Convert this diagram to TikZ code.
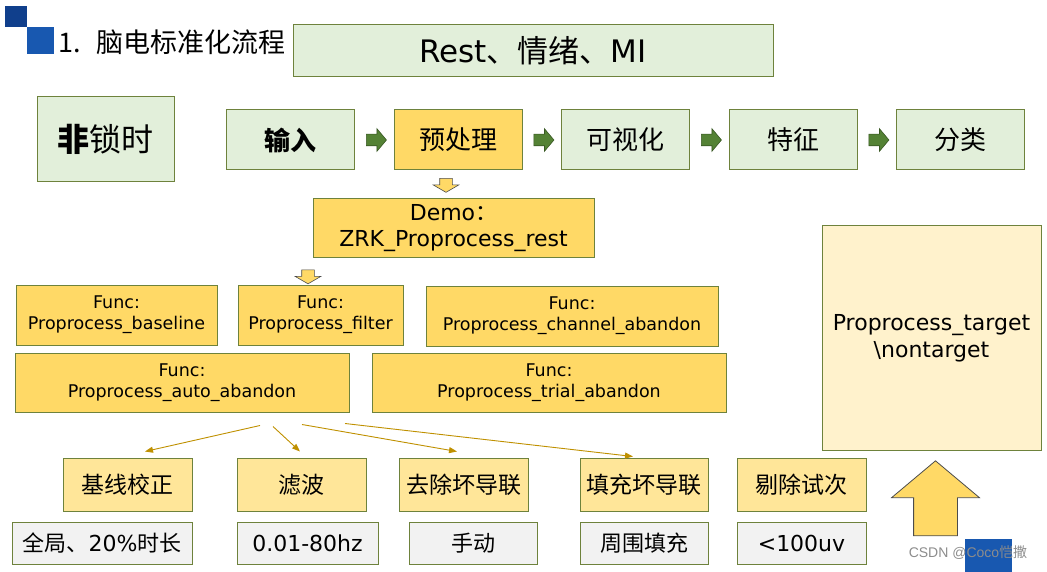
\documentclass[tikz,border=0pt]{standalone}
\usepackage{fontspec}
\setmainfont{DejaVu Sans}
\newfontfamily\cjk{Noto Sans CJK SC}
\newfontfamily\wmfont{Liberation Sans}
\usetikzlibrary{shapes.arrows,arrows.meta,calc}
\definecolor{sqdark}{RGB}{16,63,140}
\definecolor{sqblue}{RGB}{24,88,176}
\definecolor{lgreen}{RGB}{226,239,218}
\definecolor{boxline}{RGB}{110,130,60}
\definecolor{gold}{RGB}{255,217,102}
\definecolor{lgold}{RGB}{255,230,153}
\definecolor{cream}{RGB}{255,242,204}
\definecolor{lgray}{RGB}{242,242,242}
\definecolor{darrow}{RGB}{84,130,53}
\definecolor{darrowline}{RGB}{56,87,35}
\definecolor{linegold}{RGB}{191,144,0}
\begin{document}
\begin{tikzpicture}[x=1pt,y=1pt,yscale=-1,xscale=1,
  box/.style={draw=boxline, line width=1pt, inner sep=0pt, align=center},
  greenbox/.style={box, fill=lgreen, minimum width=128pt, minimum height=60pt, font=\cjk\fontsize{26}{30}\selectfont},
  funcbox/.style={box, fill=gold, minimum height=60pt, font=\fontsize{17.5}{21}\selectfont},
  stepbox/.style={box, fill=lgold, minimum width=129pt, minimum height=53pt, font=\cjk\fontsize{23}{26}\selectfont},
  valbox/.style={box, fill=lgray, minimum height=42pt, font=\fontsize{22}{26}\selectfont},
  garrow/.style={single arrow, draw=darrowline, fill=darrow, line width=0.6pt, minimum height=20pt,
    single arrow head extend=5.5pt, inner xsep=0pt, inner ysep=5.5pt, single arrow tip angle=100},
  yarrow/.style={single arrow, draw=black!70, fill=gold, line width=0.6pt, rotate=-90, minimum height=14pt,
    single arrow head extend=6.5pt, inner xsep=0pt, inner ysep=6pt, single arrow tip angle=120},
  thinarrow/.style={draw=linegold, line width=0.9pt, -{Triangle[length=8pt,width=6pt]}}
]
\useasboundingbox (0,0) rectangle (1047,572);
% title
\fill[sqdark] (5,6) rectangle (27,27);
\fill[sqblue] (27,27) rectangle (54,54);
\node[anchor=west, inner sep=0pt, font=\cjk\fontsize{27}{30}\selectfont] (title) at (58,42) {1.\hspace{0.6em}脑电标准化流程};
\node[greenbox, minimum width=480pt, minimum height=52pt, font=\fontsize{31}{34}\selectfont] (rest) at (533,51) {Rest{\cjk 、情绪、}MI};
% main flow
\node[greenbox, minimum width=137pt, minimum height=85pt, font=\cjk\fontsize{32}{36}\selectfont] (nolock) at (105.5,139.5) {{\bfseries 非}锁时};
\node[greenbox] (input) at (290,140) {\bfseries 输入};
\node[greenbox, fill=gold] (pre) at (458,140) {预处理};
\node[greenbox] (vis) at (625,140) {可视化};
\node[greenbox] (feat) at (793,140) {特征};
\node[greenbox] (cls) at (960,140) {分类};
\node[garrow] (g1) at ($(input.east)!0.5!(pre.west)$) {};
\node[garrow] (g2) at ($(pre.east)!0.5!(vis.west)$) {};
\node[garrow] (g3) at ($(vis.east)!0.5!(feat.west)$) {};
\node[garrow] (g4) at ($(feat.east)!0.5!(cls.west)$) {};
% demo and functions
\node[yarrow] (d1) at ($(pre.south)+(-12,13)$) {};
\node[funcbox, minimum width=281pt, minimum height=59pt, font=\fontsize{22}{26}\selectfont] (demo) at (453.5,228.5) {Demo{\cjk ：}\\ZRK\_Proprocess\_rest};
\node[yarrow] (d2) at (308,275) {};
\node[funcbox, minimum width=201pt] (fbase) at (116.5,315) {Func:\\Proprocess\_baseline};
\node[funcbox, minimum width=165pt] (ffilt) at (320.5,315) {Func:\\Proprocess\_filter};
\node[funcbox, minimum width=292pt] (fchan) at (572,316) {Func:\\Proprocess\_channel\_abandon};
\node[funcbox, minimum width=334pt, minimum height=59pt] (auto) at (182,382.5) {Func:\\Proprocess\_auto\_abandon};
\node[funcbox, minimum width=354pt, minimum height=59pt] (ftrial) at (549,382.5) {Func:\\Proprocess\_trial\_abandon};
\node[box, fill=cream, minimum width=219pt, minimum height=224pt, font=\fontsize{22}{27}\selectfont] (target) at (931.5,338) {Proprocess\_target\\\textbackslash nontarget};
\node[single arrow, draw=black!70, fill=gold, line width=0.8pt, rotate=90, minimum height=75pt,
  single arrow head extend=22pt, inner xsep=0pt, inner ysep=21.5pt, single arrow tip angle=100] (up) at (935.5,507.5) {};
% steps
\node[stepbox] (base) at (127.5,484.5) {基线校正};
\node[stepbox] (filt) at (301.5,484.5) {滤波};
\node[stepbox] (rem) at (463.5,484.5) {去除坏导联};
\node[stepbox, minimum width=128pt] (fill) at (644,484.5) {填充坏导联};
\node[stepbox] (drop) at (801.5,484.5) {剔除试次};
\node[valbox, minimum width=180pt] (glob) at (102,543) {{\cjk 全局、}20\%{\cjk 时长}};
\node[valbox, minimum width=141pt] (freq) at (307.5,543) {0.01-80hz};
\node[valbox, minimum width=128pt, font=\cjk\fontsize{22}{26}\selectfont] (manual) at (473,543) {手动};
\node[valbox, minimum width=128pt, font=\cjk\fontsize{22}{26}\selectfont] (around) at (644,543) {周围填充};
\node[valbox, minimum width=129pt] (thr) at (801.5,543) {<100uv};
\draw[thinarrow] ($(auto.south)+(78,13)$) -- ($(base.north)+(17.5,-6)$);
\draw[thinarrow] ($(auto.south)+(91,14)$) -- ($(filt.north)+(-1.5,-6)$);
\draw[thinarrow] ($(auto.south)+(120,12)$) -- ($(rem.north)+(-6.5,-6)$);
\draw[thinarrow] ($(auto.south)+(163,11)$) -- ($(fill.north)+(-11,-1)$);
% mark
\fill[sqblue] (965,539) rectangle (1012,572);
\node[text=black!45, inner sep=0pt, font=\wmfont\fontsize{14}{16}\selectfont] (mark) at (968,553) {CSDN @Coco{\cjk 恺撒}};
\end{tikzpicture}
\end{document}
